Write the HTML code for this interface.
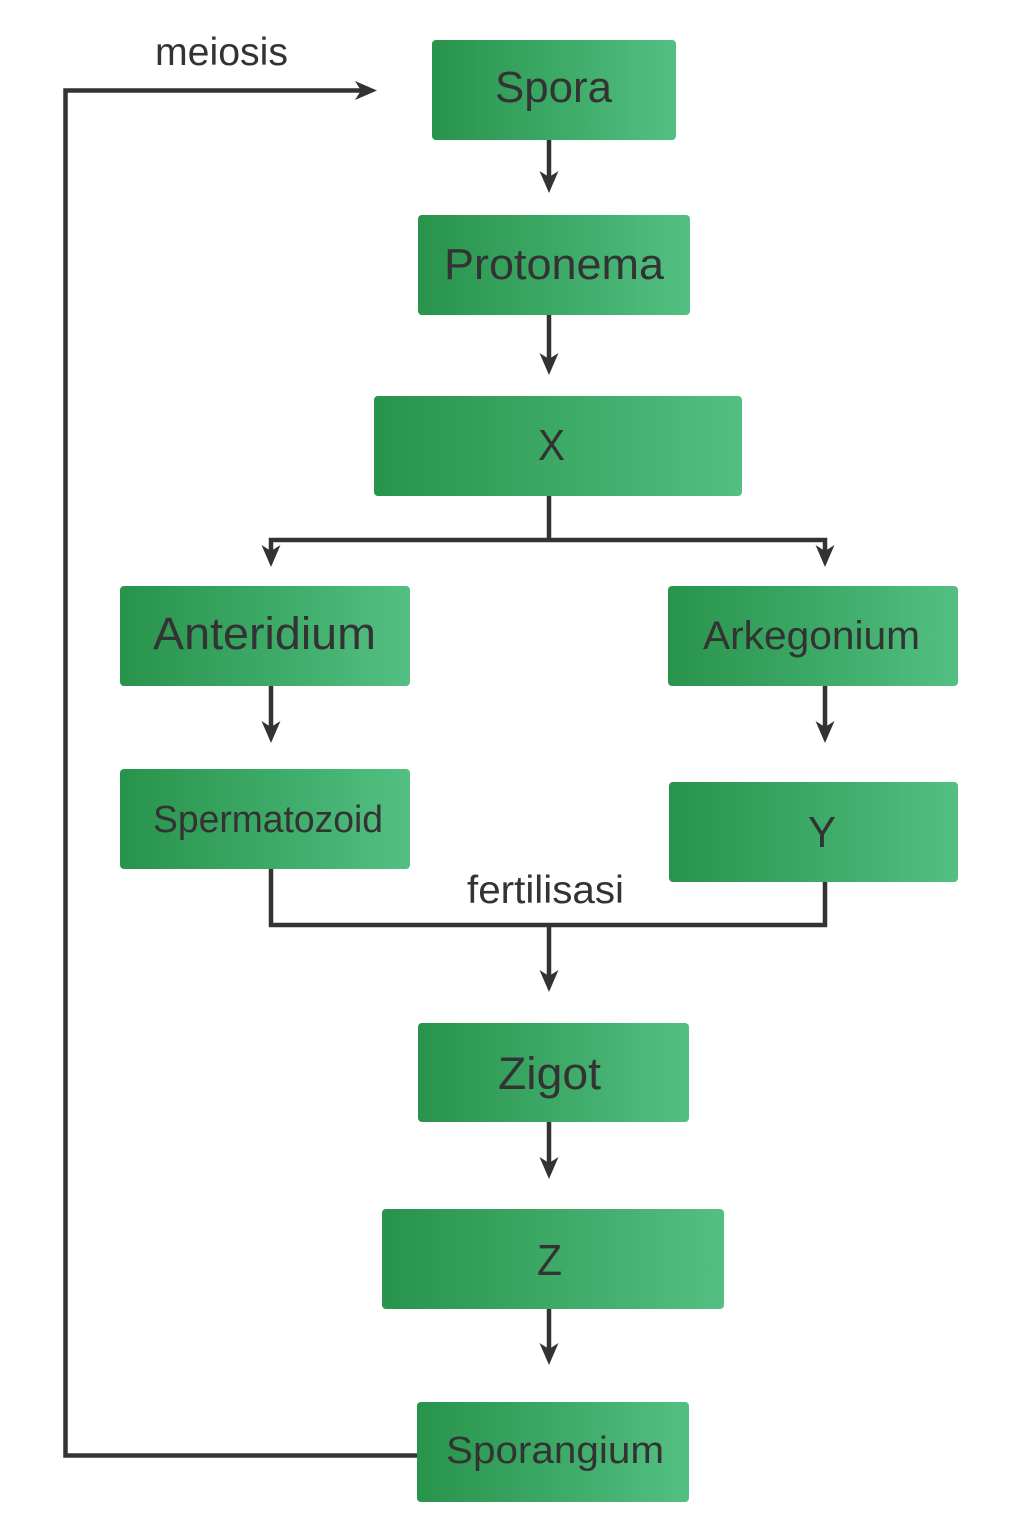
<!DOCTYPE html>
<html>
<head>
<meta charset="utf-8">
<style>
  html, body { margin: 0; padding: 0; background: #ffffff; }
  svg { display: block; }
  text { font-family: "Liberation Sans", "DejaVu Sans", sans-serif; fill: #333333; }
</style>
</head>
<body>
<svg width="1024" height="1536" viewBox="0 0 1024 1536" xmlns="http://www.w3.org/2000/svg">
  <defs>
    <linearGradient id="g" x1="0" y1="0" x2="1" y2="0">
      <stop offset="0" stop-color="#27934b"/>
      <stop offset="1" stop-color="#53bf82"/>
    </linearGradient>
  </defs>

  <!-- connectors -->
  <g stroke="#333333" stroke-width="4.5" fill="none" stroke-linejoin="miter">
    <line x1="549" y1="140" x2="549" y2="180"/>
    <line x1="549" y1="315" x2="549" y2="362"/>
    <polyline points="549,496 549,540"/>
    <polyline points="271,560 271,540 825,540 825,560"/>
    <line x1="271" y1="686" x2="271" y2="730"/>
    <line x1="825" y1="686" x2="825" y2="730"/>
    <polyline points="271,869 271,925 825,925 825,882"/>
    <line x1="549" y1="925" x2="549" y2="978"/>
    <line x1="549" y1="1122" x2="549" y2="1166"/>
    <line x1="549" y1="1309" x2="549" y2="1352"/>
    <polyline points="417,1455.5 65.5,1455.5 65.5,90.5 364,90.5"/>
  </g>

  <!-- arrowheads -->
  <g fill="#333333">
    <path d="M549,193 L539.5,171 L549,177 L558.5,171 Z"/>
    <path d="M549,375 L539.5,353 L549,359 L558.5,353 Z"/>
    <path d="M271,567 L261.5,545 L271,551 L280.5,545 Z"/>
    <path d="M825,567 L815.5,545 L825,551 L834.5,545 Z"/>
    <path d="M271,743 L261.5,721 L271,727 L280.5,721 Z"/>
    <path d="M825,743 L815.5,721 L825,727 L834.5,721 Z"/>
    <path d="M549,992 L539.5,970 L549,976 L558.5,970 Z"/>
    <path d="M549,1179 L539.5,1157 L549,1163 L558.5,1157 Z"/>
    <path d="M549,1365 L539.5,1343 L549,1349 L558.5,1343 Z"/>
    <path d="M377,90.5 L355,81 L361,90.5 L355,100 Z"/>
  </g>

  <!-- boxes -->
  <g fill="url(#g)">
    <rect x="432" y="40" width="244" height="100" rx="4"/>
    <rect x="418" y="215" width="272" height="100" rx="4"/>
    <rect x="374" y="396" width="368" height="100" rx="4"/>
    <rect x="120" y="586" width="290" height="100" rx="4"/>
    <rect x="668" y="586" width="290" height="100" rx="4"/>
    <rect x="120" y="769" width="290" height="100" rx="4"/>
    <rect x="669" y="782" width="289" height="100" rx="4"/>
    <rect x="418" y="1023" width="271" height="99" rx="4"/>
    <rect x="382" y="1209" width="342" height="100" rx="4"/>
    <rect x="417" y="1402" width="272" height="100" rx="4"/>
  </g>

  <!-- labels -->
  <text x="495" y="102" font-size="44" textLength="117" lengthAdjust="spacingAndGlyphs">Spora</text>
  <text x="444" y="279" font-size="44" textLength="220" lengthAdjust="spacingAndGlyphs">Protonema</text>
  <text x="538" y="460" font-size="44" textLength="27" lengthAdjust="spacingAndGlyphs">X</text>
  <text x="153" y="649" font-size="45" textLength="223" lengthAdjust="spacingAndGlyphs">Anteridium</text>
  <text x="703" y="649" font-size="40" textLength="217" lengthAdjust="spacingAndGlyphs">Arkegonium</text>
  <text x="153" y="832" font-size="38" textLength="230" lengthAdjust="spacingAndGlyphs">Spermatozoid</text>
  <text x="808" y="847" font-size="44" textLength="28" lengthAdjust="spacingAndGlyphs">Y</text>
  <text x="467" y="903" font-size="39" textLength="157" lengthAdjust="spacingAndGlyphs">fertilisasi</text>
  <text x="498" y="1089" font-size="45" textLength="103" lengthAdjust="spacingAndGlyphs">Zigot</text>
  <text x="537" y="1275" font-size="44" textLength="25" lengthAdjust="spacingAndGlyphs">Z</text>
  <text x="446" y="1463" font-size="38" textLength="218" lengthAdjust="spacingAndGlyphs">Sporangium</text>
  <text x="155" y="65" font-size="39" textLength="133" lengthAdjust="spacingAndGlyphs">meiosis</text>
</svg>
</body>
</html>
